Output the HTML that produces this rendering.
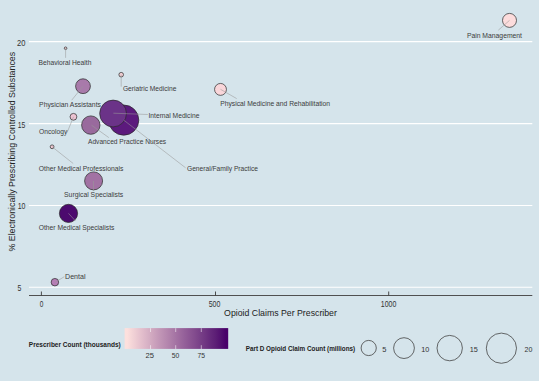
<!DOCTYPE html>
<html><head><meta charset="utf-8">
<style>
html,body{margin:0;padding:0;background:#d5e4eb;width:539px;height:381px;overflow:hidden}
svg{display:block}
text{font-family:"Liberation Sans",sans-serif}
</style></head><body>
<svg width="539" height="381" viewBox="0 0 539 381">
<defs>
<linearGradient id="cb" x1="0" x2="1" y1="0" y2="0">
<stop offset="0.0250" stop-color="#fde0dd"/>
<stop offset="0.0750" stop-color="#f3d4d7"/>
<stop offset="0.1250" stop-color="#eac8d1"/>
<stop offset="0.1750" stop-color="#e1bccb"/>
<stop offset="0.2250" stop-color="#d7b1c5"/>
<stop offset="0.2750" stop-color="#cea5be"/>
<stop offset="0.3250" stop-color="#c499b8"/>
<stop offset="0.3750" stop-color="#bb8eb2"/>
<stop offset="0.4250" stop-color="#b283ac"/>
<stop offset="0.4750" stop-color="#a878a6"/>
<stop offset="0.5250" stop-color="#9f6ca0"/>
<stop offset="0.5750" stop-color="#95619a"/>
<stop offset="0.6250" stop-color="#8c5694"/>
<stop offset="0.6750" stop-color="#834c8e"/>
<stop offset="0.7250" stop-color="#794188"/>
<stop offset="0.7750" stop-color="#703682"/>
<stop offset="0.8250" stop-color="#662a7c"/>
<stop offset="0.8750" stop-color="#5d1f76"/>
<stop offset="0.9250" stop-color="#531170"/>
<stop offset="0.9750" stop-color="#49006a"/>
</linearGradient>
</defs>
<rect x="0" y="0" width="539" height="381" fill="#d5e4eb"/>
<!-- gridlines -->
<g stroke="#ffffff" stroke-width="1.1">
<line x1="29" y1="41.6" x2="532.3" y2="41.6"/>
<line x1="29" y1="123.6" x2="532.3" y2="123.6"/>
<line x1="29" y1="205.5" x2="532.3" y2="205.5"/>
<line x1="29" y1="287.3" x2="532.3" y2="287.3"/>
</g>
<!-- axis -->
<line x1="29" y1="295.5" x2="532.3" y2="295.5" stroke="#505050" stroke-width="1"/>
<g stroke="#3a3a3a" stroke-width="0.9">
<line x1="41.4" y1="291.5" x2="41.4" y2="295.5"/>
<line x1="215.5" y1="291.5" x2="215.5" y2="295.5"/>
<line x1="388.7" y1="291.5" x2="388.7" y2="295.5"/>
</g>
<g fill="#333" font-size="8.4">
<text x="17.07" y="46.0" textLength="8.42" lengthAdjust="spacingAndGlyphs">20</text>
<text x="17.79" y="127.6" textLength="7.57" lengthAdjust="spacingAndGlyphs">15</text>
<text x="17.68" y="209.1" textLength="7.79" lengthAdjust="spacingAndGlyphs">10</text>
<text x="17.59" y="290.9" textLength="3.85" lengthAdjust="spacingAndGlyphs">5</text>
<text x="39.71" y="307.0" textLength="3.63" lengthAdjust="spacingAndGlyphs">0</text>
<text x="208.69" y="307.0" textLength="11.71" lengthAdjust="spacingAndGlyphs">500</text>
<text x="380.78" y="307.0" textLength="15.53" lengthAdjust="spacingAndGlyphs">1000</text>
</g>
<text x="280.5" y="316.4" text-anchor="middle" font-size="8.75" fill="#222">Opioid Claims Per Prescriber</text>
<text transform="translate(14.6,151.7) rotate(-90)" text-anchor="middle" font-size="8.75" fill="#222" textLength="199.6" lengthAdjust="spacingAndGlyphs">% Electronically Prescribing Controlled Substances</text>

<!-- bubbles -->
<g stroke="#282828" stroke-width="0.7">
<circle cx="509.5" cy="20.4" r="7.0" fill="#fcdcdc"/>
<circle cx="65.6" cy="48.25" r="1.3" fill="#f5d0d5"/>
<circle cx="121.2" cy="74.7" r="2.3" fill="#f5d0d5"/>
<circle cx="220.5" cy="89.4" r="5.95" fill="#f9d6da"/>
<circle cx="83" cy="86.2" r="7.4" fill="#a87aaa"/>
<circle cx="73.45" cy="116.8" r="3.4" fill="#edc3d2"/>
<circle cx="90.8" cy="125.1" r="9.2" fill="#996a9d"/>
<circle cx="123.7" cy="120.1" r="15.1" fill="#5c1a7d"/>
<circle cx="113.1" cy="113.5" r="13.4" fill="#6b3388"/>
<circle cx="52.1" cy="146.8" r="1.9" fill="#f0c8d2"/>
<circle cx="93.6" cy="180.9" r="9.0" fill="#a272a3"/>
<circle cx="68.5" cy="213.4" r="9.1" fill="#4c0a6e"/>
<circle cx="54.9" cy="282.2" r="3.75" fill="#b67eb5"/>
</g>
<!-- leader lines -->
<g stroke="#989898" stroke-width="0.55">
<line x1="509.5" y1="20.4" x2="498.3" y2="30.2"/>
<line x1="65.6" y1="48.2" x2="65.6" y2="57.8"/>
<line x1="121.2" y1="74.7" x2="121.2" y2="86.7"/>
<line x1="220.5" y1="89.3" x2="236.7" y2="98.6"/>
<line x1="82.9" y1="86.3" x2="71.7" y2="100.2"/>
<line x1="73.5" y1="116.8" x2="67.1" y2="132.6"/>
<line x1="52.1" y1="146.8" x2="73.2" y2="163.5"/>
<line x1="93.5" y1="181" x2="93.5" y2="191"/>
<line x1="68.5" y1="213.4" x2="75.5" y2="221"/>
<line x1="54.9" y1="282.4" x2="64.3" y2="276.7"/>
</g>

<!-- leader lines over bubbles -->
<g stroke="#989898" stroke-width="0.55">
<line x1="113.4" y1="113.2" x2="147.8" y2="114.5"/>
<line x1="123.7" y1="120.1" x2="185.6" y2="167.8"/>
<line x1="91.5" y1="125.2" x2="108.8" y2="137.6"/>
</g>

<!-- labels -->
<g fill="#3c3c3c" font-size="6.8">
<text x="466.9" y="37.6" textLength="55.12" lengthAdjust="spacingAndGlyphs">Pain Management</text>
<text x="38.51" y="64.9" textLength="52.89" lengthAdjust="spacingAndGlyphs">Behavioral Health</text>
<text x="122.96" y="90.9" textLength="53.42" lengthAdjust="spacingAndGlyphs">Geriatric Medicine</text>
<text x="220.2" y="105.7" textLength="109.9" lengthAdjust="spacingAndGlyphs">Physical Medicine and Rehabilitation</text>
<text x="39.1" y="106.8" textLength="61.88" lengthAdjust="spacingAndGlyphs">Physician Assistants</text>
<text x="148.51" y="117.8" textLength="50.85" lengthAdjust="spacingAndGlyphs">Internal Medicine</text>
<text x="39.05" y="133.7" textLength="28.21" lengthAdjust="spacingAndGlyphs">Oncology</text>
<text x="88.0" y="143.9" textLength="78.19" lengthAdjust="spacingAndGlyphs">Advanced Practice Nurses</text>
<text x="38.85" y="170.5" textLength="84.5" lengthAdjust="spacingAndGlyphs">Other Medical Professionals</text>
<text x="186.96" y="170.6" textLength="71.02" lengthAdjust="spacingAndGlyphs">General/Family Practice</text>
<text x="64.05" y="197.2" textLength="59.14" lengthAdjust="spacingAndGlyphs">Surgical Specialists</text>
<text x="38.75" y="230.2" textLength="75.63" lengthAdjust="spacingAndGlyphs">Other Medical Specialists</text>
<text x="65.08" y="278.9" textLength="20.44" lengthAdjust="spacingAndGlyphs">Dental</text>
</g>

<!-- legend -->
<text x="28.8" y="346.9" font-size="6.6" font-weight="bold" fill="#222" textLength="91.91" lengthAdjust="spacingAndGlyphs">Prescriber Count (thousands)</text>
<rect x="124.6" y="328.1" width="103.6" height="20.8" fill="url(#cb)"/>
<g stroke="#fff" stroke-width="0.7" stroke-opacity="0.75">
<line x1="150.5" y1="328.2" x2="150.5" y2="332"/>
<line x1="175.7" y1="328.2" x2="175.7" y2="332"/>
<line x1="201.3" y1="328.2" x2="201.3" y2="332"/>
<line x1="150.5" y1="345.2" x2="150.5" y2="349"/>
<line x1="175.7" y1="345.2" x2="175.7" y2="349"/>
<line x1="201.3" y1="345.2" x2="201.3" y2="349"/>
</g>
<g fill="#333" font-size="7.4">
<text x="145.64" y="357.9" textLength="8.5" lengthAdjust="spacingAndGlyphs">25</text>
<text x="171.77" y="357.9" textLength="7.54" lengthAdjust="spacingAndGlyphs">50</text>
<text x="197.57" y="357.9" textLength="7.54" lengthAdjust="spacingAndGlyphs">75</text>
</g>
<text x="245.66" y="351.4" font-size="6.6" font-weight="bold" fill="#222" textLength="109.57" lengthAdjust="spacingAndGlyphs">Part D Opioid Claim Count (millions)</text>
<g stroke="#444" stroke-width="0.8" fill="none">
<circle cx="368.7" cy="348" r="7.6"/>
<circle cx="404" cy="348.1" r="10.4"/>
<circle cx="449.7" cy="348.1" r="12.7"/>
<circle cx="501.4" cy="348.2" r="15.1"/>
</g>
<g fill="#333" font-size="7.4">
<text x="382.35" y="351.6" textLength="4.18" lengthAdjust="spacingAndGlyphs">5</text>
<text x="421.31" y="351.6" textLength="8.12" lengthAdjust="spacingAndGlyphs">10</text>
<text x="469.81" y="351.6" textLength="8.12" lengthAdjust="spacingAndGlyphs">15</text>
<text x="524.46" y="351.6" textLength="7.86" lengthAdjust="spacingAndGlyphs">20</text>
</g>
</svg>
</body></html>
